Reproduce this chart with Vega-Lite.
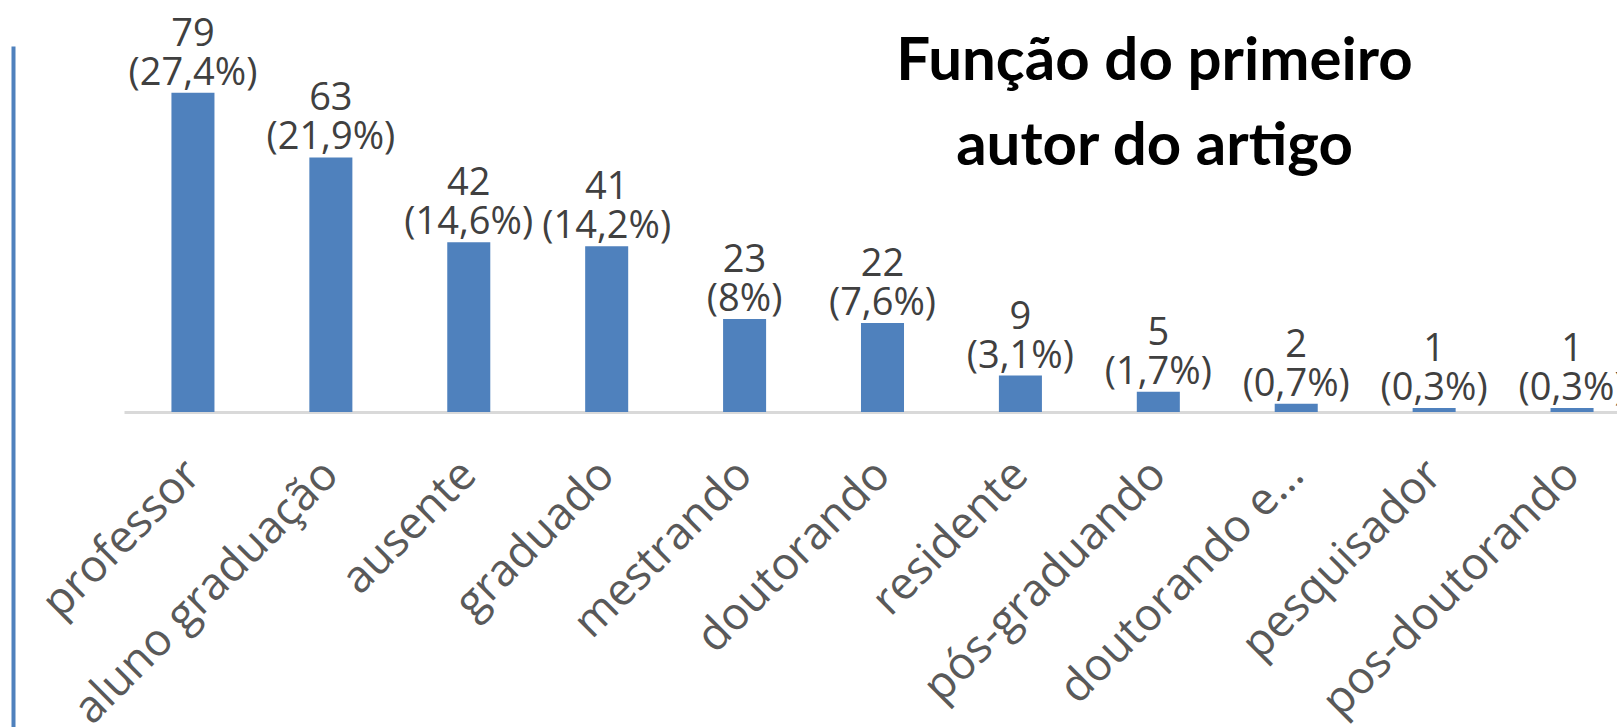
{
  "$schema": "https://vega.github.io/schema/vega-lite/v6.json",
  "autosize": "none",
  "padding": {"left": 124, "top": 46, "right": 0, "bottom": 0},
  "width": 1517,
  "height": 681,
  "background": "white",
  "title": {
    "text": ["Função do primeiro", "autor do artigo"],
    "anchor": "middle",
    "frame": "group",
    "orient": "top",
    "offset": 0,
    "baseline": "alphabetic",
    "dx": 272,
    "dy": 209,
    "font": "Lato",
    "fontWeight": "bold",
    "fontSize": 60,
    "lineHeight": 85,
    "color": "#000000"
  },
  "data": {
    "values": [
      {"funcao": "professor", "n": 79, "pct": "(27,4%)"},
      {"funcao": "aluno graduação", "n": 63, "pct": "(21,9%)"},
      {"funcao": "ausente", "n": 42, "pct": "(14,6%)"},
      {"funcao": "graduado", "n": 41, "pct": "(14,2%)"},
      {"funcao": "mestrando", "n": 23, "pct": "(8%)"},
      {"funcao": "doutorando", "n": 22, "pct": "(7,6%)"},
      {"funcao": "residente", "n": 9, "pct": "(3,1%)"},
      {"funcao": "pós-graduando", "n": 5, "pct": "(1,7%)"},
      {"funcao": "doutorando e…", "n": 2, "pct": "(0,7%)"},
      {"funcao": "pesquisador", "n": 1, "pct": "(0,3%)"},
      {"funcao": "pos-doutorando", "n": 1, "pct": "(0,3%)"}
    ]
  },
  "encoding": {
    "x": {
      "field": "funcao",
      "type": "nominal",
      "sort": null,
      "scale": {"paddingInner": 0.688, "paddingOuter": 0.344},
      "axis": {
        "title": null,
        "offset": -315,
        "labelAngle": -45,
        "labelAlign": "right",
        "labelBaseline": "middle",
        "labelPadding": 55,
        "labelFont": "Open Sans",
        "labelFontSize": 45,
        "labelColor": "#595959",
        "labelLimit": 1000,
        "labelOverlap": false,
        "ticks": false,
        "domainColor": "#D9D9D9",
        "domainWidth": 3,
        "grid": false
      }
    },
    "y": {
      "field": "n",
      "type": "quantitative",
      "scale": {"domain": [-78, 90.6], "nice": false, "zero": false},
      "axis": {
        "title": null,
        "labels": false,
        "ticks": false,
        "grid": false,
        "offset": 111,
        "domainColor": "#4F81BD",
        "domainWidth": 4
      }
    }
  },
  "layer": [
    {
      "mark": {"type": "bar", "color": "#4F81BD"},
      "encoding": {"y2": {"datum": 0}}
    },
    {
      "mark": {"type": "text", "baseline": "alphabetic", "dy": -47, "font": "Open Sans", "fontSize": 38, "color": "#404040"},
      "encoding": {"text": {"field": "n", "type": "quantitative"}}
    },
    {
      "mark": {"type": "text", "baseline": "alphabetic", "dy": -8, "font": "Open Sans", "fontSize": 38, "color": "#404040"},
      "encoding": {"text": {"field": "pct", "type": "nominal"}}
    }
  ],
  "config": {"view": {"stroke": null}}
}
